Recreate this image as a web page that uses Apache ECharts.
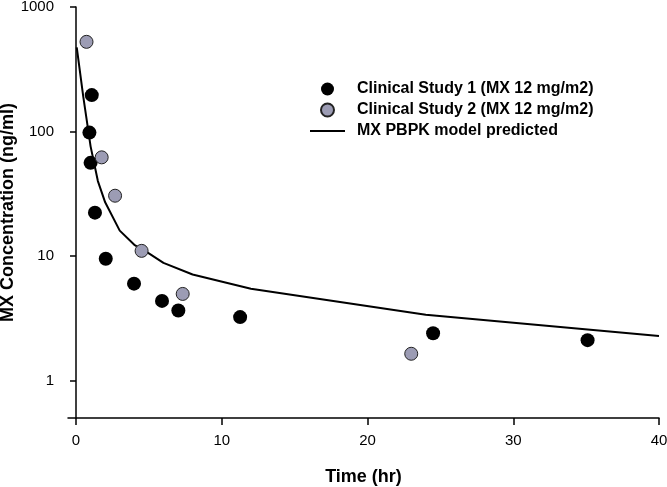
<!DOCTYPE html>
<html><head><meta charset="utf-8">
<script src="https://cdn.jsdelivr.net/npm/echarts@6/dist/echarts.min.js"></script>
<style>html,body{margin:0;padding:0;background:#fff}#c{width:667px;height:487px}</style>
</head><body><div id="c"></div>
<script>
const study1Name = 'Clinical Study 1 (MX 12 mg/m2)';
const study2Name = 'Clinical Study 2 (MX 12 mg/m2)';
const modelName = 'MX PBPK model predicted';
const study1Time = [0.92, 1.0, 1.08, 1.3, 2.04, 3.98, 5.9, 7.02, 11.26, 24.5, 35.1];
const study1Conc = [98, 56, 196, 22.3, 9.5, 6.0, 4.36, 3.65, 3.23, 2.4, 2.11];
const study2Time = [0.72, 1.76, 2.68, 4.5, 7.32, 23.0];
const study2Conc = [525, 62, 30.5, 11.0, 4.96, 1.64];
const modelTime = [0.05, 0.5, 1, 1.5, 2, 3, 4, 5, 6, 8, 12, 24, 40];
const modelConc = [474, 190, 76, 40, 27, 16, 12.3, 10.5, 8.8, 7.1, 5.45, 3.37, 2.28];
const xTicks = [0, 10, 20, 30, 40];
const yTicks = [1, 10, 100, 1000];

const zip = (a, b) => a.map((v, i) => [v, b[i]]);
const font = 'Liberation Sans, Arial, sans-serif';
const chart = echarts.init(document.getElementById('c'));
chart.setOption({
  animation: false,
  backgroundColor: '#fff',
  grid: { left: 68, right: 8, top: 7, bottom: 69, outerBoundsMode: 'none', containLabel: false },
  legend: {
    orient: 'vertical', left: 310, top: 81, padding: 0, itemWidth: 35, itemHeight: 13, itemGap: 5,
    data: [study1Name, study2Name, { name: modelName, icon: 'path://M0,0H35V2H0Z' }],
    textStyle: { fontFamily: font, fontWeight: 'bold', fontSize: 16, color: '#000', padding: [0, 0, 0, 7] }
  },
  xAxis: {
    type: 'value', min: -0.55, max: 40,
    name: 'Time (hr)', nameLocation: 'middle', nameGap: 50, nameMoveOverlap: false,
    nameTextStyle: { fontFamily: font, fontWeight: 'bold', fontSize: 18, color: '#000' },
    axisLine: { lineStyle: { color: '#000', width: 1.5 } },
    axisTick: { customValues: xTicks, length: 7, lineStyle: { color: '#000', width: 1.5 } },
    axisLabel: { customValues: xTicks, margin: 15, fontFamily: font, fontSize: 15, color: '#000' },
    splitLine: { show: false }
  },
  yAxis: {
    type: 'log', logBase: 10, min: 0.5, max: 1000,
    name: 'MX Concentration (ng/ml)', nameLocation: 'middle', nameGap: 51, nameMoveOverlap: false,
    nameTextStyle: { fontFamily: font, fontWeight: 'bold', fontSize: 18, color: '#000' },
    axisLine: { show: true, lineStyle: { color: '#000', width: 1.5 } },
    axisTick: { customValues: yTicks, length: 6, lineStyle: { color: '#000', width: 1.5 } },
    axisLabel: { customValues: yTicks, margin: 14, fontFamily: font, fontSize: 15, color: '#000',
      formatter: v => String(v) },
    splitLine: { show: false }
  },
  series: [
    {
      name: modelName, type: 'line', data: zip(modelTime, modelConc), symbol: 'none', z: 1,
      lineStyle: { color: '#000', width: 2 }, itemStyle: { color: '#000' }
    },
    {
      name: study1Name, type: 'scatter', data: zip(study1Time, study1Conc), symbol: 'circle', symbolSize: 14, z: 3,
      itemStyle: { color: '#000', borderColor: '#000', borderWidth: 0, opacity: 1 }
    },
    {
      name: study2Name, type: 'scatter', data: zip(study2Time, study2Conc), symbol: 'circle', symbolSize: 13, z: 4,
      itemStyle: { color: '#9c9cb4', borderColor: '#222', borderWidth: 1, opacity: 1 }
    }
  ]
});
</script></body></html>
